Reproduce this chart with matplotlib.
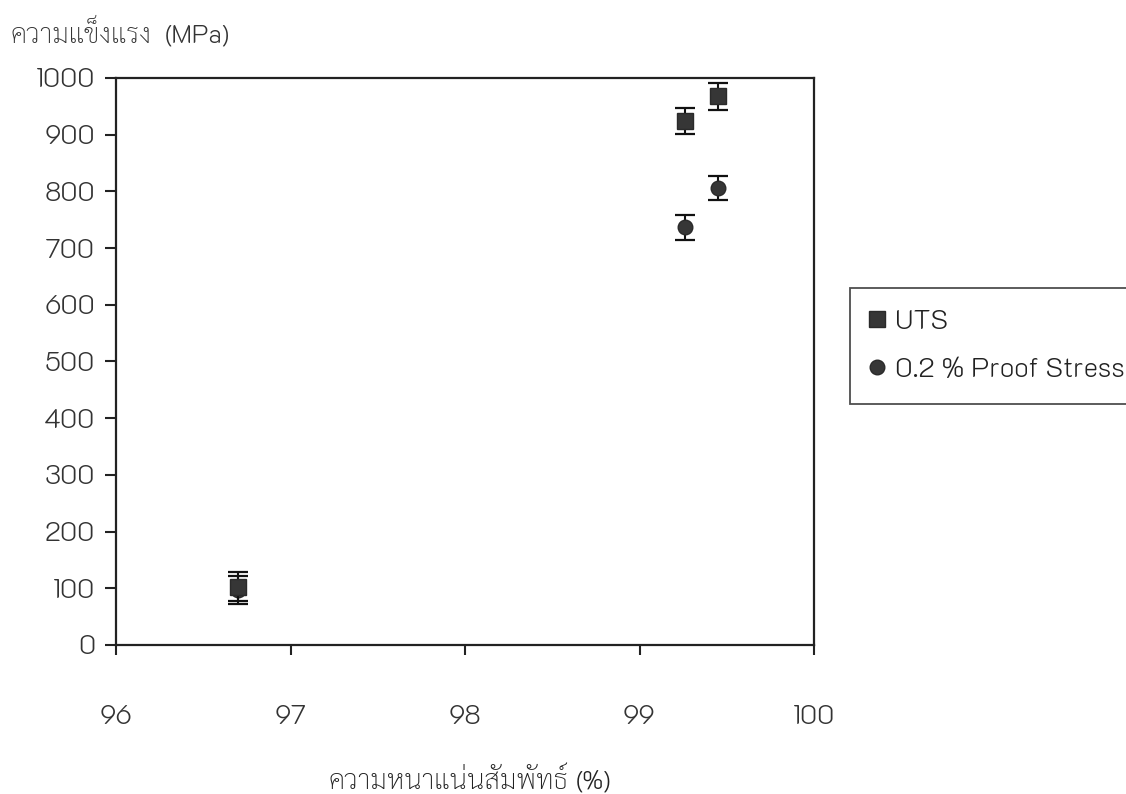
import matplotlib
matplotlib.use("Agg")
import matplotlib.pyplot as plt

# ---- data ----
density = [96.7, 99.26, 99.45]
uts = [103, 924, 968]
uts_err = [25, 23, 24]
proof = [97, 737, 806]
proof_err = [24, 22, 21]
xticks = [96, 97, 98, 99, 100]
yticks = [0, 100, 200, 300, 400, 500, 600, 700, 800, 900, 1000]
ylabel_thai, ylabel_unit = "ความแข็งแรง", "(MPa)"
xlabel_thai, xlabel_unit = "ความหนาแน่นสัมพัทธ์", "(%)"
legend_labels = ["UTS", "0.2 % Proof Stress"]

num_font = ["K2D", "Chakra Petch", "DejaVu Sans"]
thai_font = ["Sarabun", "Noto Sans Thai Looped", "Noto Sans Thai", "DejaVu Sans"]

W, H = 1126, 794
fig = plt.figure(figsize=(W / 100, H / 100), dpi=100)
ax = fig.add_axes([116 / W, 1 - 645 / H, (814 - 116) / W, (645 - 78) / H])

mc = "#363636"
ax.errorbar(density, proof, yerr=proof_err, fmt="o", ms=10.5, mfc=mc, mec="#2a2a2a",
            ecolor="#111111", elinewidth=1.5, capsize=7, capthick=1.6, label=legend_labels[1], zorder=3)
ax.errorbar(density, uts, yerr=uts_err, fmt="s", ms=11.5, mfc=mc, mec="#2a2a2a",
            ecolor="#111111", elinewidth=1.5, capsize=7, capthick=1.6, label=legend_labels[0], zorder=4)

ax.set_xlim(96, 100)
ax.set_ylim(0, 1000)
ax.set_xticks(xticks)
ax.set_yticks(yticks)
ax.set_xticklabels([str(v) for v in xticks], family=num_font, fontsize=19, weight="light", color="#333333")
ax.set_yticklabels([str(v) for v in yticks], family=num_font, fontsize=19, weight="light", color="#333333")
ax.tick_params(axis="x", direction="out", length=7, width=1.5, pad=36, color="#222222")
ax.tick_params(axis="y", direction="out", length=8, width=1.5, pad=7, color="#222222")
for s in ax.spines.values():
    s.set_linewidth(1.6)
    s.set_color("#222222")

renderer = fig.canvas.get_renderer()


def two_part(x_px, base_px, thai, unit, thai_size, unit_size, color, gap_px):
    t = fig.text(x_px / W, 1 - base_px / H, thai, family=thai_font, fontsize=thai_size,
                 weight="light", color=color, ha="left", va="baseline")
    ext = t.get_window_extent(renderer=renderer)
    fig.text((ext.x1 + gap_px) / W, 1 - base_px / H, unit, family=num_font, fontsize=unit_size,
             weight="light", color=color, ha="left", va="baseline")


# y-axis title (top left)
two_part(10, 43, ylabel_thai, ylabel_unit, 20, 18, "#333333", 14)
# x-axis title (bottom)
two_part(328, 789, xlabel_thai, xlabel_unit, 20, 18, "#222222", 8)

h, l = ax.get_legend_handles_labels()
order = [1, 0]
leg = fig.legend([h[i][0] for i in order], [l[i] for i in order],
                 loc="upper left", bbox_to_anchor=(850 / W, 1 - 288 / H),
                 borderaxespad=0, frameon=True, fancybox=False, handlelength=0.4,
                 handletextpad=0.45, labelspacing=0.85, borderpad=0.8,
                 prop={"family": num_font, "size": 19.5, "weight": "light"})
leg.get_frame().set_edgecolor("#222222")
leg.get_frame().set_linewidth(1.3)
for t in leg.get_texts():
    t.set_color("#222222")

fig.savefig("out.png", dpi=100)
